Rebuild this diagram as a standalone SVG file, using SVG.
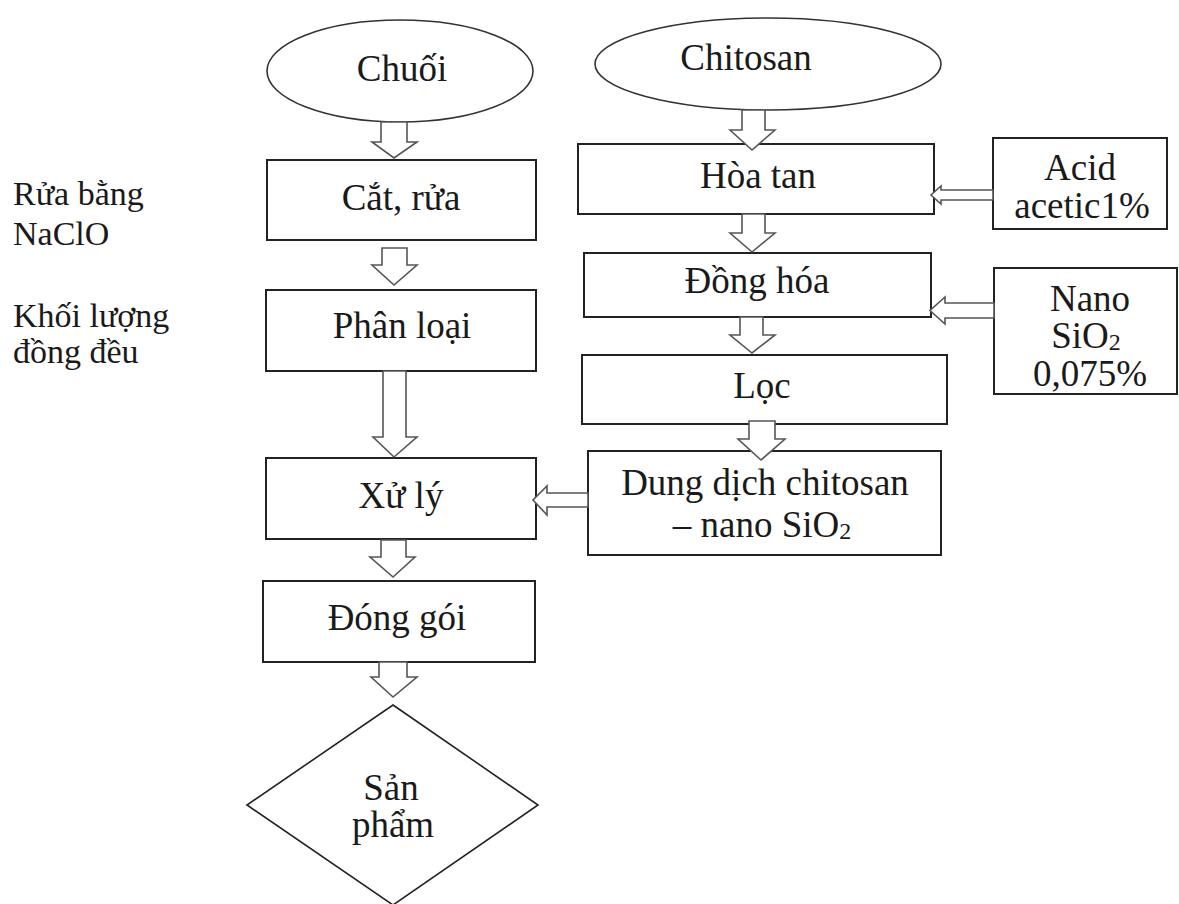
<svg xmlns="http://www.w3.org/2000/svg" width="1179" height="904" viewBox="0 0 1179 904">
<style>
.box{fill:#fff;stroke:#222;stroke-width:2}
.ell{fill:#fff;stroke:#333;stroke-width:1.6}
.arr{fill:#fff;stroke:#555;stroke-width:1.6;stroke-linejoin:miter}
.t{font-family:"Liberation Serif","Times New Roman",serif;font-size:37px;fill:#1a1a1a;text-anchor:middle}
.l{font-family:"Liberation Serif","Times New Roman",serif;font-size:34px;fill:#1a1a1a}
</style>
<rect width="1179" height="904" fill="#fff"/>
<g id="label-left">
<text class="l" x="13" y="205">Rửa bằng</text>
<text class="l" x="13" y="245">NaClO</text>
<text class="l" x="13" y="327">Khối lượng</text>
<text class="l" x="13" y="363">đồng đều</text>
</g>
<g id="chuoi"><ellipse class="ell" cx="400" cy="71" rx="133" ry="51"/><text class="t" x="402" y="81">Chuối</text></g>
<g id="chitosan"><ellipse class="ell" cx="768" cy="64" rx="173" ry="46"/><text class="t" x="746" y="70">Chitosan</text></g>
<g id="cat-rua"><rect class="box" x="267" y="160" width="269" height="80"/><text class="t" x="401" y="210">Cắt, rửa</text></g>
<g id="phan-loai"><rect class="box" x="266" y="290" width="270" height="81"/><text class="t" x="402" y="338">Phân loại</text></g>
<g id="xu-ly"><rect class="box" x="266" y="458" width="270" height="81"/><text class="t" x="401" y="508">Xử lý</text></g>
<g id="dong-goi"><rect class="box" x="263" y="581" width="272" height="81"/><text class="t" x="397" y="630">Đóng gói</text></g>
<g id="san-pham"><polygon class="box" points="393,705 538,805 393,905 247,805" style="stroke-width:1.6"/><text class="t" x="391" y="800">Sản</text><text class="t" x="393" y="837">phẩm</text></g>
<g id="hoa-tan"><rect class="box" x="578" y="144" width="356" height="70"/><text class="t" x="758" y="188">Hòa tan</text></g>
<g id="acid"><rect class="box" x="993" y="138" width="174" height="91"/><text class="t" x="1080" y="180">Acid</text><text class="t" x="1082" y="218">acetic1%</text></g>
<g id="dong-hoa"><rect class="box" x="584" y="253" width="347" height="64"/><text class="t" x="757" y="293">Đồng hóa</text></g>
<g id="nano"><rect class="box" x="994" y="268" width="183" height="126"/><text class="t" x="1090" y="311">Nano</text><text class="t" x="1086" y="348">SiO<tspan font-size="24" dy="2">2</tspan></text><text class="t" x="1090" y="386">0,075%</text></g>
<g id="loc"><rect class="box" x="582" y="355" width="365" height="69"/><text class="t" x="762" y="398">Lọc</text></g>
<g id="dung-dich"><rect class="box" x="588" y="451" width="353" height="104"/><text class="t" x="765" y="495">Dung dịch chitosan</text><text class="t" x="762" y="537">– nano SiO<tspan font-size="24" dy="2">2</tspan></text></g>
<g id="connectors">
<path class="arr" d="M381,122 L407,122 L407,142 L417,142 L394,158 L372,142 L381,142 Z"/>
<path class="arr" d="M382,248 L407,248 L407,265 L417,265 L394,285 L372,265 L382,265 Z"/>
<path class="arr" d="M383,371 L406,371 L406,437 L417,437 L394,457 L373,437 L383,437 Z"/>
<path class="arr" d="M381,540 L406,540 L406,557 L415,557 L393,577 L370,557 L381,557 Z"/>
<path class="arr" d="M379,662 L407,662 L407,677 L417,677 L393,697 L371,677 L379,677 Z"/>
<path class="arr" d="M742,110 L765,110 L765,130 L775,130 L752,150 L730,130 L742,130 Z"/>
<path class="arr" d="M742,214 L765,214 L765,233 L775,233 L752,252 L730,233 L742,233 Z"/>
<path class="arr" d="M740,317 L763,317 L763,335 L775,335 L752,353 L730,335 L740,335 Z"/>
<path class="arr" d="M749,421 L775,421 L775,439 L785,439 L761,460 L738,439 L749,439 Z"/>
<path class="arr" d="M993,190 L941,190 L941,186 L931,195 L941,204 L941,200 L993,200 Z"/>
<path class="arr" d="M994,303 L945,303 L945,297 L930,310.5 L945,324 L945,318 L994,318 Z"/>
<path class="arr" d="M588,493 L547,493 L547,486 L533,500 L547,515 L547,507 L588,507 Z"/>
</g>
</svg>
